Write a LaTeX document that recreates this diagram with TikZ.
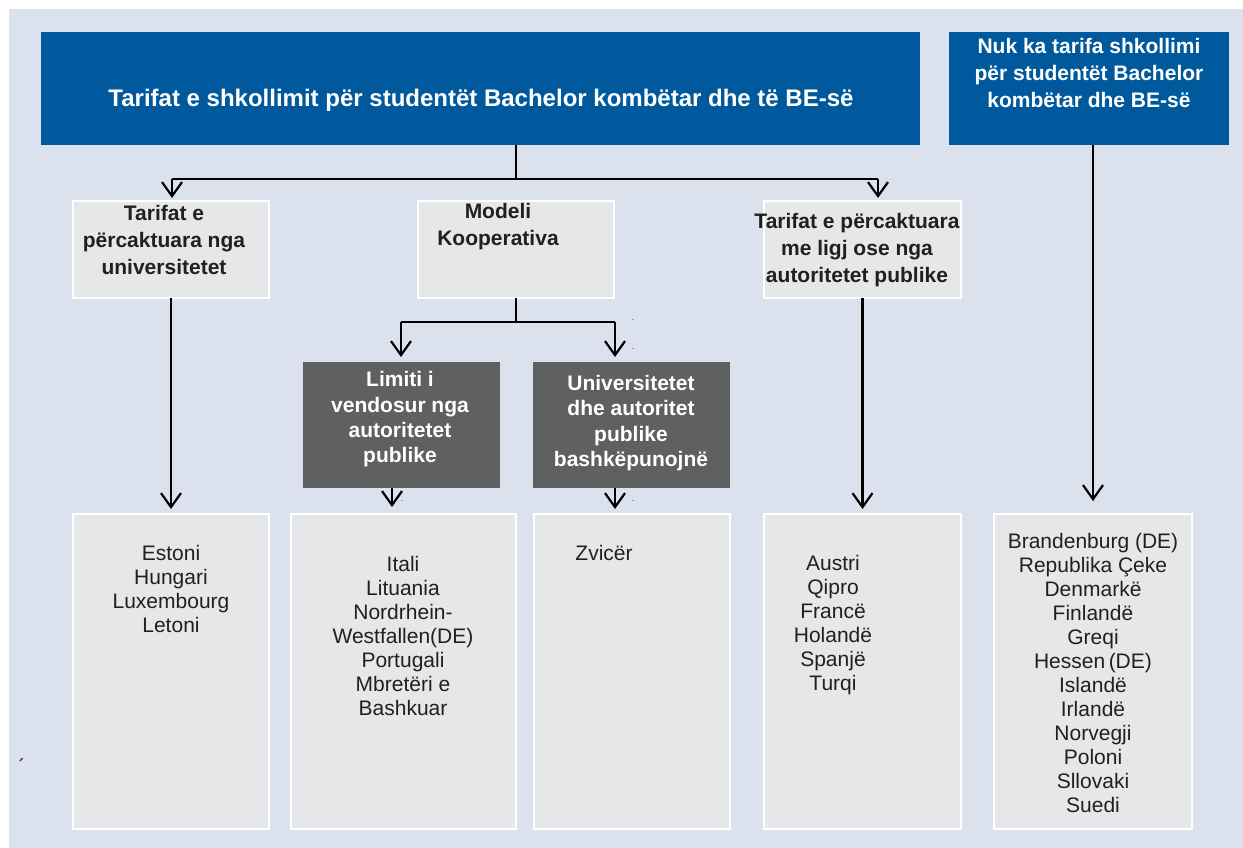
\documentclass[tikz,border=0pt]{standalone}
\usepackage{fontspec}
\setmainfont{Liberation Sans}
\usetikzlibrary{arrows.meta,calc}
\definecolor{bg}{RGB}{220,225,238}
\definecolor{eblue}{RGB}{0,89,156}
\definecolor{lgrey}{RGB}{230,231,233}
\definecolor{dgrey}{RGB}{95,96,98}
\definecolor{ink}{RGB}{35,31,32}
\tikzset{
  bluebox/.style={fill=eblue, draw=none, inner sep=0pt, outer sep=0pt},
  headbox/.style={fill=lgrey, draw=white, line width=2.5pt, inner sep=0pt, outer sep=0pt},
  darkbox/.style={fill=dgrey, draw=none, inner sep=0pt, outer sep=0pt},
  listbox/.style={fill=lgrey, draw=white, line width=2.5pt, inner sep=0pt, outer sep=0pt},
  wtxt/.style={text=white, font=\bfseries\fontsize{21}{27}\selectfont, align=center, inner sep=0pt},
  ttxt/.style={text=white, font=\bfseries\fontsize{24}{28}\selectfont, align=center, inner sep=0pt},
  dtxt/.style={text=white, font=\bfseries\fontsize{21}{25.3}\selectfont, align=center, inner sep=0pt},
  htxt/.style={text=ink, font=\bfseries\fontsize{21}{27}\selectfont, align=center, inner sep=0pt},
  ltxt/.style={text=ink, font=\fontsize{21}{24}\selectfont, align=center, inner sep=0pt},
  dotmark/.style={text=ink, font=\fontsize{8}{8}\selectfont, inner sep=0pt},
  conn/.style={draw=black, line width=2.2pt},
  hline/.style={draw=black, line width=1.6pt},
  arr/.style={draw=black, line width=2.2pt, -{Straight Barb[length=14pt,width=20pt]}},
}
\begin{document}
\begin{tikzpicture}[x=1pt,y=-1pt]
\useasboundingbox (0,0) rectangle (1243,848);
\fill[bg] (9,9) rectangle (1243,848);

% top boxes
\node[bluebox, minimum width=879pt, minimum height=113pt] (top) at (480.5,88.5) {};
\node[ttxt] (toptxt) at (481,100) {Tarifat e shkollimit për studentët Bachelor kombëtar dhe të BE-së};
\node[bluebox, minimum width=280pt, minimum height=113pt] (nofee) at (1089,88.5) {};
\node[wtxt] (nofeetxt) at (1089,73) {Nuk ka tarifa shkollimi\\për studentët Bachelor\\kombëtar dhe BE-së};

% second row
\node[headbox, minimum width=196pt, minimum height=97pt] (b1) at (171,249.5) {};
\node[htxt] (b1t) at (164,240) {Tarifat e\\përcaktuara nga\\universitetet};
\node[headbox, minimum width=196pt, minimum height=97pt] (b2) at (516,249.5) {};
\node[htxt] (b2t) at (498,227) {Modeli\\Kooperativa};
\node[headbox, minimum width=197pt, minimum height=97pt] (b3) at (862.5,249.5) {};
\node[htxt] (b3t) at (857,250) {Tarifat e përcaktuara\\me ligj ose nga\\autoritetet publike};

% third row
\node[darkbox, minimum width=197pt, minimum height=126pt] (b4) at (401.5,425) {};
\node[dtxt] (b4t) at (400,419.5) {Limiti i\\vendosur nga\\autoritetet\\publike};
\node[darkbox, minimum width=197pt, minimum height=126pt] (b5) at (631.5,425) {};
\node[dtxt] (b5t) at (631,423) {Universitetet\\dhe autoritet\\publike\\bashkëpunojnë};

% list boxes
\node[listbox, minimum width=196pt, minimum height=315pt] (l1) at (171,671.5) {};
\node[ltxt] (l1t) at (171,589) {Estoni\\Hungari\\Luxembourg\\Letoni};
\node[listbox, minimum width=225pt, minimum height=315pt] (l2) at (403.5,671.5) {};
\node[ltxt] (l2t) at (403,635.5) {Itali\\Lituania\\Nordrhein-\\Westfallen(DE)\\Portugali\\Mbretëri e\\Bashkuar};
\node[listbox, minimum width=196pt, minimum height=315pt] (l3) at (632,671.5) {};
\node[ltxt] (l3t) at (604,553) {Zvicër};
\node[listbox, minimum width=197pt, minimum height=315pt] (l4) at (862.5,671.5) {};
\node[ltxt] (l4t) at (833,625) {Austri\\Qipro\\Francë\\Holandë\\Spanjë\\Turqi};
\node[listbox, minimum width=198pt, minimum height=315pt] (l5) at (1093,671.5) {};
\node[ltxt] (l5t) at (1093,672.5) {Brandenburg (DE)\\Republika Çeke\\Denmarkë\\Finlandë\\Greqi\\Hessen\,(DE)\\Islandë\\Irlandë\\Norvegji\\Poloni\\Sllovaki\\Suedi};

% junction coordinates
\coordinate (j1) at (516,179);
\coordinate (a1) at (172,179);
\coordinate (a3) at (878,179);
\coordinate (j2) at (516,322);
\coordinate (a4) at (401,322);
\coordinate (a5) at (615,322);
\coordinate (c4) at (392,488);
\coordinate (c5) at (615,488);
\coordinate (c6) at (1093,145);

% connectors
\draw[conn] (top.south -| j1) -- (j1);
\draw[hline] (a1) -- (a3);
\draw[arr, shorten >=3pt] (a1) -- (a1 |- b1.north);
\draw[arr, shorten >=3pt] (a3) -- (a3 |- b3.north);

\draw[conn] (b2.south) -- (j2);
\draw[hline] (a4) -- (a5);
\draw[arr, shorten >=5pt] (a4) -- (a4 |- b4.north);
\draw[arr, shorten >=5pt] (a5) -- (a5 |- b5.north);

\draw[arr, shorten >=5pt] (b1.south) -- (b1.south |- l1.north);
\draw[arr, shorten >=7pt] (c4) -- (c4 |- l2.north);
\draw[arr, shorten >=5pt] (c5) -- (c5 |- l3.north);
\draw[arr, shorten >=5pt] (b3.south) -- (b3.south |- l4.north);
\draw[arr, shorten >=13pt] (c6) -- (c6 |- l5.north);

% stray marks
\node[dotmark] (d1) at (633,320) {.};
\node[dotmark] (d2) at (633,349) {.};
\node[dotmark] (d3) at (402,501) {.};
\node[dotmark] (d4) at (633,501) {.};
\node[dotmark] (d5) at (1094,501) {.};
\node[text=ink, font=\fontsize{20}{20}\selectfont, inner sep=0pt] (acc) at (22,766) {´};
\end{tikzpicture}
\end{document}
